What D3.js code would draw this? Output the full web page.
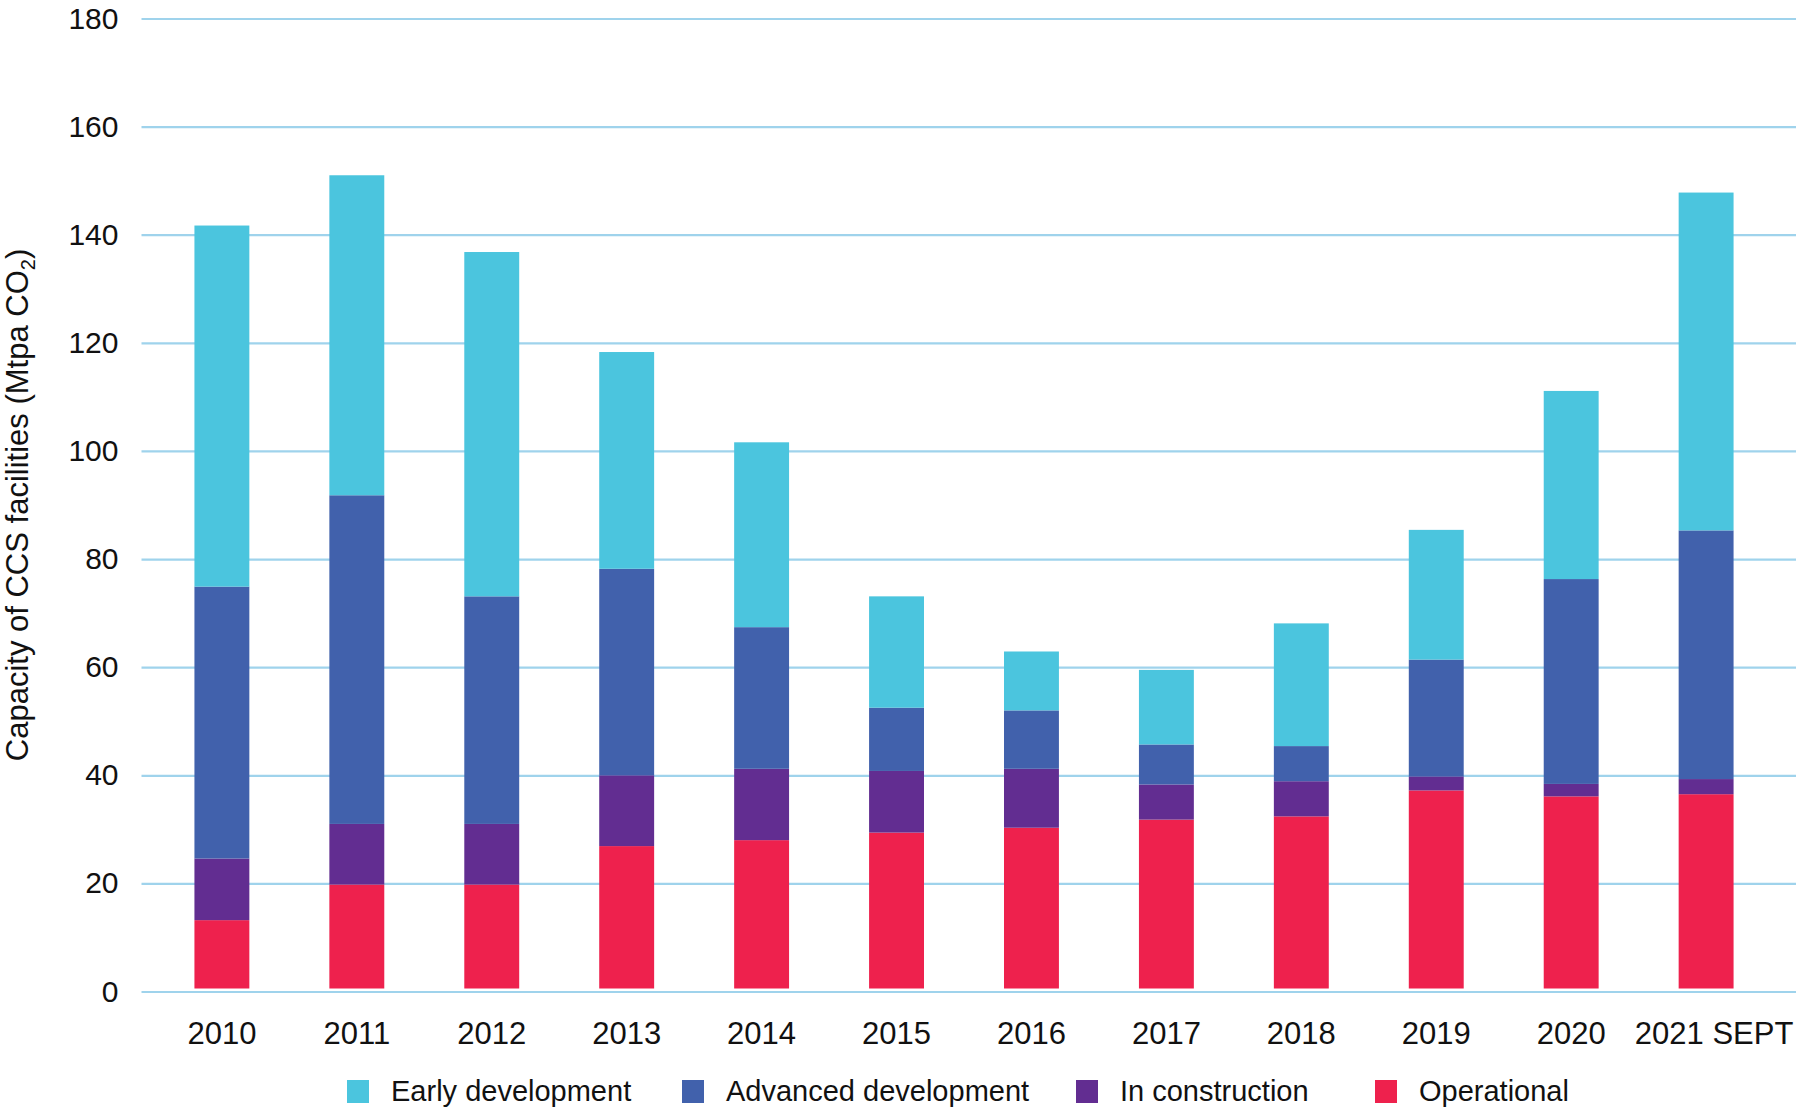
<!DOCTYPE html>
<html>
<head>
<meta charset="utf-8">
<script src="https://cdn.jsdelivr.net/npm/d3@7"></script>
<style>
  body { margin: 0; background: #fff; }
  text { font-family: "Liberation Sans", Arial, Helvetica, sans-serif; fill: #111; }
</style>
</head>
<body>
<div id="chart"></div>
<script>
  var width = 1800;
  var height = 1108;

  // data (Mtpa CO2, each stage's own share of the stack)
  var years = ["2010","2011","2012","2013","2014","2015","2016","2017","2018","2019","2020","2021 SEPT"];
  var operational     = [13.2, 19.8, 19.8, 26.9, 28.0, 29.4, 30.3, 31.8, 32.4, 37.2, 36.1, 36.5];
  var inConstruction  = [11.4, 11.2, 11.2, 13.1, 13.2, 11.4, 10.9,  6.5,  6.5,  2.6,  2.3,  2.8];
  var advancedDev     = [50.3, 60.8, 42.1, 38.2, 26.2, 11.7, 10.8,  7.4,  6.5, 21.6, 37.9, 46.0];
  var earlyDev        = [66.8, 59.2, 63.7, 40.1, 34.2, 20.6, 10.9, 13.8, 22.7, 24.0, 34.8, 62.5];
  var yTicks = [0, 20, 40, 60, 80, 100, 120, 140, 160, 180];

  var stages = ["Operational", "In construction", "Advanced development", "Early development"];
  var legendOrder = ["Early development", "Advanced development", "In construction", "Operational"];
  var colours = {
    "Early development": "#4bc5de",
    "Advanced development": "#4161ac",
    "In construction": "#622d91",
    "Operational": "#ee214d"
  };

  var rows = years.map(function(yr, i){
    return {
      year: yr,
      "Operational": operational[i],
      "In construction": inConstruction[i],
      "Advanced development": advancedDev[i],
      "Early development": earlyDev[i]
    };
  });

  var gridLeft = 141.5, gridRight = 1796;
  var plotTop = 18.5, plotBottom = 991.5;

  var x = d3.scaleBand()
    .domain(years)
    .range([141, 1787])
    .paddingInner(0.593)
    .paddingOuter(0.396);

  var y = d3.scaleLinear()
    .domain([0, 180])
    .range([plotBottom, plotTop]);

  var svg = d3.select("#chart").append("svg")
    .attr("width", width)
    .attr("height", height);

  // gridlines + y labels
  var yAxis = svg.append("g")
    .attr("transform", "translate(" + gridLeft + ",0)")
    .call(d3.axisLeft(y).tickValues(yTicks).tickSize(-(gridRight - gridLeft)).tickPadding(23));
  yAxis.select(".domain").remove();
  yAxis.selectAll("line").attr("stroke", "#9fd3ec").attr("stroke-width", 2.2);
  yAxis.selectAll("text")
    .attr("font-size", "30px")
    .attr("fill", "#111")
    .attr("font-family", "Liberation Sans, Arial, sans-serif");

  var series = d3.stack().keys(stages)(rows);

  var gap = 3; // bars stop a touch above the axis line
  svg.append("g").selectAll("g")
    .data(series)
    .enter().append("g")
    .attr("fill", function(d){ return colours[d.key]; })
    .selectAll("rect")
    .data(function(d){ return d; })
    .enter().append("rect")
    .attr("x", function(d){ return x(d.data.year); })
    .attr("width", x.bandwidth())
    .attr("y", function(d){ return y(d[1]); })
    .attr("height", function(d){
      var h = y(d[0]) - y(d[1]);
      if(d[0] == 0){ h = h - gap; }
      return h;
    });

  // x labels
  var xAxis = svg.append("g")
    .attr("transform", "translate(0," + plotBottom + ")")
    .call(d3.axisBottom(x).tickSize(0).tickPadding(30.5));
  xAxis.select(".domain").remove();
  xAxis.selectAll("text")
    .attr("font-size", "31px")
    .attr("fill", "#111")
    .attr("font-family", "Liberation Sans, Arial, sans-serif");
  // the last label sits a little right of its bar in the original
  xAxis.selectAll("text").filter(function(d){ return d == "2021 SEPT"; }).attr("dx", 8);

  // y title
  var title = svg.append("text")
    .attr("transform", "translate(28," + ((plotTop + plotBottom) / 2) + ") rotate(-90)")
    .attr("text-anchor", "middle")
    .attr("font-size", "31px");
  title.append("tspan").text("Capacity of CCS facilities (Mtpa CO");
  title.append("tspan").text("2").attr("font-size", "20px").attr("dy", 7);
  title.append("tspan").text(")").attr("dy", -7);

  // legend
  var legendX = [347, 682, 1076, 1375];
  var legend = svg.append("g").selectAll("g")
    .data(legendOrder)
    .enter().append("g")
    .attr("transform", function(d, i){ return "translate(" + legendX[i] + ",1080)"; });
  legend.append("rect")
    .attr("width", 22)
    .attr("height", 23)
    .attr("fill", function(d){ return colours[d]; });
  legend.append("text")
    .attr("x", 44)
    .attr("y", 21)
    .attr("font-size", "29px")
    .text(function(d){ return d; });
</script>
</body>
</html>
